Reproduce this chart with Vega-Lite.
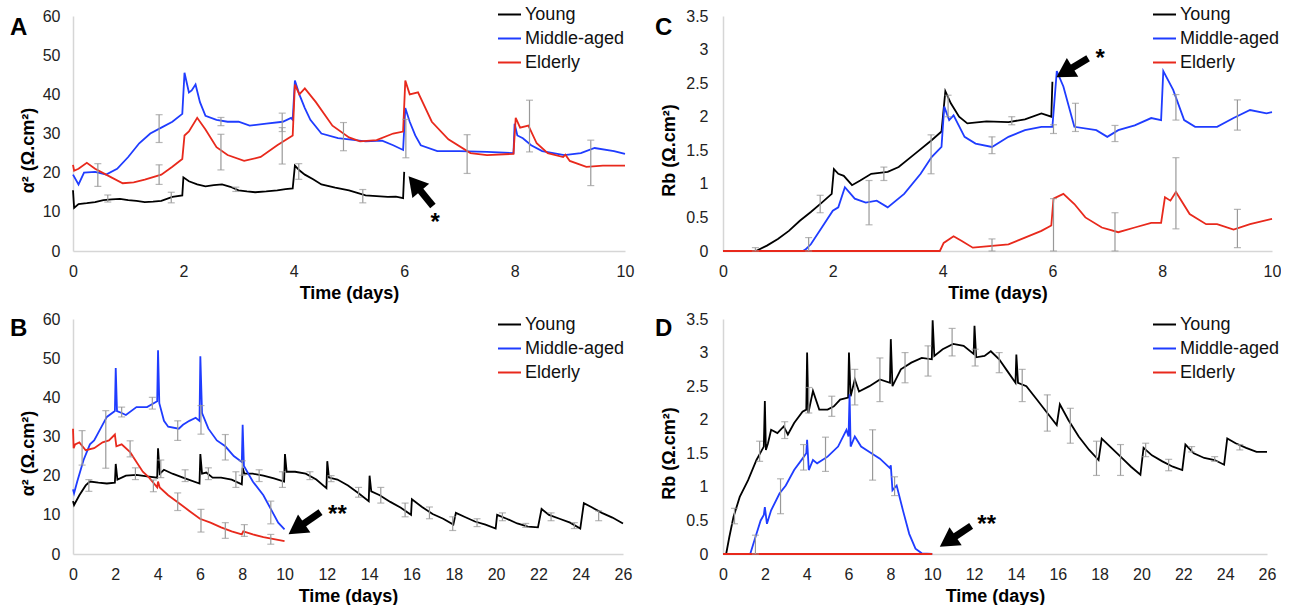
{
  "$schema": "https://vega.github.io/schema/vega-lite/v6.json",
  "background": "white",
  "padding": {"left": 10, "top": 2, "right": 0, "bottom": 0},
  "config": {
    "view": {"stroke": null},
    "font": "Liberation Sans",
    "axis": {"domainColor": "#d6d6d6", "domainWidth": 1.5, "ticks": false, "grid": false, "labelFont": "Liberation Sans", "labelFontSize": 16, "labelColor": "#222222", "labelFlush": false, "labelOverlap": false, "titleFont": "Liberation Sans", "titleFontSize": 18, "titleFontWeight": "bold", "titleColor": "#000000"},
    "axisX": {"labelPadding": 12, "titlePadding": 5},
    "axisY": {"labelPadding": 13, "titlePadding": 5},
    "legend": {"orient": "none", "direction": "vertical", "title": null, "symbolType": "stroke", "symbolSize": 529, "symbolStrokeWidth": 2, "labelFont": "Liberation Sans", "labelFontSize": 18, "labelColor": "#111111", "labelOffset": 3, "rowPadding": 2, "padding": 0},
    "title": {"anchor": "start", "frame": "group", "offset": 0, "baseline": "alphabetic", "font": "Liberation Sans", "fontSize": 24, "fontWeight": "bold", "color": "#000000"}
  },
  "datasets": {
    "A": [
      {"s":"Young","t":0,"v":15.5},{"s":"Young","t":0.02,"v":11.0},{"s":"Young","t":0.1,"v":12.0},{"s":"Young","t":0.25,"v":12.2},{"s":"Young","t":0.4,"v":12.5},{"s":"Young","t":0.55,"v":13.0},{"s":"Young","t":0.7,"v":13.2},{"s":"Young","t":0.85,"v":13.3},{"s":"Young","t":1.0,"v":13.0},{"s":"Young","t":1.15,"v":12.8},{"s":"Young","t":1.3,"v":12.5},{"s":"Young","t":1.45,"v":12.6},{"s":"Young","t":1.6,"v":12.8},{"s":"Young","t":1.8,"v":13.8},{"s":"Young","t":1.98,"v":14.2},{"s":"Young","t":2.0,"v":18.8},{"s":"Young","t":2.1,"v":17.8},{"s":"Young","t":2.25,"v":17.0},{"s":"Young","t":2.4,"v":16.5},{"s":"Young","t":2.55,"v":16.8},{"s":"Young","t":2.7,"v":17.0},{"s":"Young","t":2.85,"v":16.4},{"s":"Young","t":3.0,"v":15.5},{"s":"Young","t":3.15,"v":15.2},{"s":"Young","t":3.3,"v":15.0},{"s":"Young","t":3.5,"v":15.2},{"s":"Young","t":3.7,"v":15.5},{"s":"Young","t":3.85,"v":15.8},{"s":"Young","t":3.98,"v":16.0},{"s":"Young","t":4.02,"v":21.8},{"s":"Young","t":4.1,"v":20.6},{"s":"Young","t":4.2,"v":19.5},{"s":"Young","t":4.35,"v":18.3},{"s":"Young","t":4.5,"v":17.0},{"s":"Young","t":4.75,"v":16.2},{"s":"Young","t":5.0,"v":15.5},{"s":"Young","t":5.3,"v":14.2},{"s":"Young","t":5.5,"v":14.0},{"s":"Young","t":5.7,"v":13.8},{"s":"Young","t":5.85,"v":13.9},{"s":"Young","t":5.98,"v":13.5},{"s":"Young","t":6.0,"v":20.2},
      {"s":"Middle-aged","t":0,"v":19.5},{"s":"Middle-aged","t":0.1,"v":17.0},{"s":"Middle-aged","t":0.2,"v":20.0},{"s":"Middle-aged","t":0.4,"v":20.2},{"s":"Middle-aged","t":0.6,"v":19.5},{"s":"Middle-aged","t":0.8,"v":21.0},{"s":"Middle-aged","t":1.0,"v":24.0},{"s":"Middle-aged","t":1.2,"v":27.5},{"s":"Middle-aged","t":1.4,"v":30.0},{"s":"Middle-aged","t":1.6,"v":31.5},{"s":"Middle-aged","t":1.8,"v":33.0},{"s":"Middle-aged","t":1.98,"v":35.0},{"s":"Middle-aged","t":2.02,"v":45.5},{"s":"Middle-aged","t":2.1,"v":40.5},{"s":"Middle-aged","t":2.15,"v":41.0},{"s":"Middle-aged","t":2.22,"v":42.5},{"s":"Middle-aged","t":2.3,"v":38.0},{"s":"Middle-aged","t":2.4,"v":34.5},{"s":"Middle-aged","t":2.6,"v":33.5},{"s":"Middle-aged","t":2.8,"v":33.0},{"s":"Middle-aged","t":3.0,"v":33.0},{"s":"Middle-aged","t":3.2,"v":32.0},{"s":"Middle-aged","t":3.5,"v":32.5},{"s":"Middle-aged","t":3.8,"v":33.0},{"s":"Middle-aged","t":3.95,"v":34.0},{"s":"Middle-aged","t":3.98,"v":33.5},{"s":"Middle-aged","t":4.02,"v":43.5},{"s":"Middle-aged","t":4.1,"v":40.0},{"s":"Middle-aged","t":4.2,"v":36.5},{"s":"Middle-aged","t":4.3,"v":33.5},{"s":"Middle-aged","t":4.5,"v":30.0},{"s":"Middle-aged","t":4.8,"v":28.8},{"s":"Middle-aged","t":5.0,"v":28.5},{"s":"Middle-aged","t":5.3,"v":28.0},{"s":"Middle-aged","t":5.6,"v":28.2},{"s":"Middle-aged","t":5.8,"v":27.0},{"s":"Middle-aged","t":5.98,"v":25.8},{"s":"Middle-aged","t":6.02,"v":36.5},{"s":"Middle-aged","t":6.1,"v":33.0},{"s":"Middle-aged","t":6.2,"v":29.5},{"s":"Middle-aged","t":6.3,"v":27.0},{"s":"Middle-aged","t":6.6,"v":25.5},{"s":"Middle-aged","t":7.0,"v":25.5},{"s":"Middle-aged","t":7.5,"v":25.3},{"s":"Middle-aged","t":7.98,"v":25.0},{"s":"Middle-aged","t":8.0,"v":32.5},{"s":"Middle-aged","t":8.05,"v":29.5},{"s":"Middle-aged","t":8.15,"v":28.8},{"s":"Middle-aged","t":8.3,"v":27.0},{"s":"Middle-aged","t":8.5,"v":25.5},{"s":"Middle-aged","t":8.9,"v":24.5},{"s":"Middle-aged","t":9.2,"v":25.0},{"s":"Middle-aged","t":9.45,"v":26.3},{"s":"Middle-aged","t":9.8,"v":25.5},{"s":"Middle-aged","t":10.0,"v":24.8},
      {"s":"Elderly","t":0,"v":22.0},{"s":"Elderly","t":0.02,"v":20.5},{"s":"Elderly","t":0.1,"v":21.0},{"s":"Elderly","t":0.25,"v":22.5},{"s":"Elderly","t":0.4,"v":21.0},{"s":"Elderly","t":0.6,"v":19.5},{"s":"Elderly","t":0.9,"v":17.3},{"s":"Elderly","t":1.1,"v":17.5},{"s":"Elderly","t":1.3,"v":18.2},{"s":"Elderly","t":1.6,"v":19.5},{"s":"Elderly","t":1.8,"v":21.5},{"s":"Elderly","t":1.98,"v":23.5},{"s":"Elderly","t":2.02,"v":29.5},{"s":"Elderly","t":2.1,"v":30.5},{"s":"Elderly","t":2.25,"v":34.0},{"s":"Elderly","t":2.4,"v":31.0},{"s":"Elderly","t":2.6,"v":26.5},{"s":"Elderly","t":2.8,"v":24.5},{"s":"Elderly","t":3.1,"v":23.0},{"s":"Elderly","t":3.4,"v":24.0},{"s":"Elderly","t":3.7,"v":27.0},{"s":"Elderly","t":3.98,"v":29.5},{"s":"Elderly","t":4.02,"v":42.5},{"s":"Elderly","t":4.1,"v":40.0},{"s":"Elderly","t":4.2,"v":41.5},{"s":"Elderly","t":4.4,"v":38.0},{"s":"Elderly","t":4.7,"v":32.0},{"s":"Elderly","t":5.0,"v":29.0},{"s":"Elderly","t":5.2,"v":28.0},{"s":"Elderly","t":5.5,"v":28.3},{"s":"Elderly","t":5.8,"v":30.0},{"s":"Elderly","t":5.98,"v":30.5},{"s":"Elderly","t":6.02,"v":43.5},{"s":"Elderly","t":6.1,"v":40.0},{"s":"Elderly","t":6.25,"v":40.5},{"s":"Elderly","t":6.5,"v":33.0},{"s":"Elderly","t":6.8,"v":28.5},{"s":"Elderly","t":7.2,"v":25.0},{"s":"Elderly","t":7.5,"v":24.5},{"s":"Elderly","t":7.98,"v":24.8},{"s":"Elderly","t":8.02,"v":34.0},{"s":"Elderly","t":8.1,"v":31.5},{"s":"Elderly","t":8.25,"v":32.0},{"s":"Elderly","t":8.4,"v":27.5},{"s":"Elderly","t":8.6,"v":25.0},{"s":"Elderly","t":8.88,"v":24.0},{"s":"Elderly","t":8.92,"v":24.6},{"s":"Elderly","t":9.0,"v":23.0},{"s":"Elderly","t":9.3,"v":21.5},{"s":"Elderly","t":9.6,"v":21.8},{"s":"Elderly","t":10.0,"v":21.8}
    ],
    "errA": [
      {"t":0.45,"v":16.5,"v2":22.3},{"t":0.63,"v":12.5,"v2":14.3},{"t":1.56,"v":27.7,"v2":34.8},{"t":1.56,"v":17.0,"v2":22.0},{"t":1.78,"v":12.3,"v2":15.0},{"t":2.68,"v":32.0,"v2":34.1},{"t":2.68,"v":20.7,"v2":29.8},{"t":2.95,"v":15.2,"v2":16.3},{"t":3.79,"v":30.5,"v2":35.2},{"t":3.79,"v":22.2,"v2":31.5},{"t":4.09,"v":18.3,"v2":22.3},{"t":4.9,"v":25.6,"v2":32.8},{"t":5.25,"v":12.3,"v2":15.7},{"t":6.03,"v":23.8,"v2":33.6},{"t":7.14,"v":19.8,"v2":29.7},{"t":8.27,"v":25.3,"v2":38.5},{"t":9.38,"v":16.7,"v2":28.3}
    ],
    "arrA": [{"t":6.52,"v":11.5,"t2":6.19,"v2":17.2}],
    "headA": [{"t":6.19,"v":17.2}],
    "starA": [{"t":6.56,"v":8.6,"label":"*"}],
    "C": [
      {"s":"Young","t":0,"v":0},{"s":"Young","t":0.6,"v":0},{"s":"Young","t":0.8,"v":0.08},{"s":"Young","t":1.0,"v":0.18},{"s":"Young","t":1.2,"v":0.3},{"s":"Young","t":1.4,"v":0.45},{"s":"Young","t":1.6,"v":0.58},{"s":"Young","t":1.8,"v":0.72},{"s":"Young","t":1.98,"v":0.85},{"s":"Young","t":2.02,"v":1.22},{"s":"Young","t":2.1,"v":1.15},{"s":"Young","t":2.2,"v":1.12},{"s":"Young","t":2.35,"v":0.98},{"s":"Young","t":2.5,"v":1.05},{"s":"Young","t":2.7,"v":1.15},{"s":"Young","t":3.0,"v":1.18},{"s":"Young","t":3.2,"v":1.25},{"s":"Young","t":3.5,"v":1.45},{"s":"Young","t":3.8,"v":1.65},{"s":"Young","t":3.98,"v":1.78},{"s":"Young","t":4.05,"v":2.38},{"s":"Young","t":4.15,"v":2.2},{"s":"Young","t":4.3,"v":2.0},{"s":"Young","t":4.45,"v":1.9},{"s":"Young","t":4.8,"v":1.93},{"s":"Young","t":5.2,"v":1.92},{"s":"Young","t":5.5,"v":1.96},{"s":"Young","t":5.8,"v":2.05},{"s":"Young","t":5.98,"v":2.0},{"s":"Young","t":6.0,"v":2.52},
      {"s":"Middle-aged","t":0,"v":0},{"s":"Middle-aged","t":1.45,"v":0},{"s":"Middle-aged","t":1.5,"v":0.02},{"s":"Middle-aged","t":1.6,"v":0.1},{"s":"Middle-aged","t":1.8,"v":0.35},{"s":"Middle-aged","t":2.0,"v":0.6},{"s":"Middle-aged","t":2.1,"v":0.65},{"s":"Middle-aged","t":2.22,"v":0.95},{"s":"Middle-aged","t":2.4,"v":0.78},{"s":"Middle-aged","t":2.6,"v":0.72},{"s":"Middle-aged","t":2.8,"v":0.75},{"s":"Middle-aged","t":3.0,"v":0.65},{"s":"Middle-aged","t":3.3,"v":0.85},{"s":"Middle-aged","t":3.6,"v":1.15},{"s":"Middle-aged","t":3.8,"v":1.4},{"s":"Middle-aged","t":3.98,"v":1.55},{"s":"Middle-aged","t":4.03,"v":2.15},{"s":"Middle-aged","t":4.12,"v":1.95},{"s":"Middle-aged","t":4.2,"v":2.02},{"s":"Middle-aged","t":4.4,"v":1.7},{"s":"Middle-aged","t":4.6,"v":1.6},{"s":"Middle-aged","t":4.9,"v":1.55},{"s":"Middle-aged","t":5.2,"v":1.7},{"s":"Middle-aged","t":5.5,"v":1.8},{"s":"Middle-aged","t":5.8,"v":1.85},{"s":"Middle-aged","t":6.0,"v":1.85},{"s":"Middle-aged","t":6.08,"v":2.68},{"s":"Middle-aged","t":6.2,"v":2.45},{"s":"Middle-aged","t":6.4,"v":1.85},{"s":"Middle-aged","t":6.8,"v":1.8},{"s":"Middle-aged","t":7.0,"v":1.7},{"s":"Middle-aged","t":7.2,"v":1.8},{"s":"Middle-aged","t":7.5,"v":1.87},{"s":"Middle-aged","t":7.8,"v":1.98},{"s":"Middle-aged","t":7.98,"v":1.95},{"s":"Middle-aged","t":8.02,"v":2.68},{"s":"Middle-aged","t":8.2,"v":2.4},{"s":"Middle-aged","t":8.4,"v":1.95},{"s":"Middle-aged","t":8.6,"v":1.85},{"s":"Middle-aged","t":9.0,"v":1.85},{"s":"Middle-aged","t":9.3,"v":1.98},{"s":"Middle-aged","t":9.6,"v":2.1},{"s":"Middle-aged","t":9.9,"v":2.05},{"s":"Middle-aged","t":10.0,"v":2.07},
      {"s":"Elderly","t":0,"v":0},{"s":"Elderly","t":3.95,"v":0},{"s":"Elderly","t":4.02,"v":0.12},{"s":"Elderly","t":4.2,"v":0.22},{"s":"Elderly","t":4.35,"v":0.15},{"s":"Elderly","t":4.55,"v":0.05},{"s":"Elderly","t":4.8,"v":0.07},{"s":"Elderly","t":5.2,"v":0.1},{"s":"Elderly","t":5.5,"v":0.2},{"s":"Elderly","t":5.8,"v":0.3},{"s":"Elderly","t":5.98,"v":0.38},{"s":"Elderly","t":6.02,"v":0.78},{"s":"Elderly","t":6.2,"v":0.85},{"s":"Elderly","t":6.4,"v":0.7},{"s":"Elderly","t":6.6,"v":0.5},{"s":"Elderly","t":6.9,"v":0.35},{"s":"Elderly","t":7.2,"v":0.28},{"s":"Elderly","t":7.5,"v":0.35},{"s":"Elderly","t":7.8,"v":0.42},{"s":"Elderly","t":7.98,"v":0.42},{"s":"Elderly","t":8.05,"v":0.8},{"s":"Elderly","t":8.15,"v":0.75},{"s":"Elderly","t":8.25,"v":0.88},{"s":"Elderly","t":8.5,"v":0.55},{"s":"Elderly","t":8.8,"v":0.4},{"s":"Elderly","t":9.0,"v":0.4},{"s":"Elderly","t":9.3,"v":0.32},{"s":"Elderly","t":9.6,"v":0.4},{"s":"Elderly","t":10.0,"v":0.48}
    ],
    "errC": [
      {"t":0.59,"v":0,"v2":0.05},{"t":1.56,"v":0,"v2":0.2},{"t":1.77,"v":0.57,"v2":0.83},{"t":2.66,"v":0.39,"v2":1.05},{"t":2.93,"v":1.05,"v2":1.25},{"t":3.79,"v":1.15,"v2":1.73},{"t":4.1,"v":2.0,"v2":2.32},{"t":4.9,"v":1.45,"v2":1.7},{"t":4.9,"v":0,"v2":0.18},{"t":5.26,"v":1.88,"v2":2.0},{"t":6.02,"v":0,"v2":0.78},{"t":6.02,"v":1.75,"v2":1.88},{"t":6.42,"v":1.78,"v2":2.2},{"t":7.14,"v":0,"v2":0.57},{"t":7.14,"v":1.63,"v2":1.87},{"t":8.25,"v":0.33,"v2":1.39},{"t":8.25,"v":1.95,"v2":2.33},{"t":9.37,"v":0.05,"v2":0.62},{"t":9.37,"v":1.8,"v2":2.25}
    ],
    "arrC": [{"t":6.65,"v":2.87,"t2":6.22,"v2":2.66}],
    "headC": [{"t":6.22,"v":2.66}],
    "starC": [{"t":6.87,"v":2.95,"label":"*"}],
    "B": [
      {"s":"Young","t":0,"v":13.5},{"s":"Young","t":0.05,"v":12.5},{"s":"Young","t":0.3,"v":15.0},{"s":"Young","t":0.6,"v":17.5},{"s":"Young","t":0.8,"v":18.5},{"s":"Young","t":1.2,"v":18.2},{"s":"Young","t":1.6,"v":18.0},{"s":"Young","t":1.98,"v":18.2},{"s":"Young","t":2.02,"v":23.0},{"s":"Young","t":2.1,"v":19.0},{"s":"Young","t":2.5,"v":20.0},{"s":"Young","t":3.0,"v":20.2},{"s":"Young","t":3.5,"v":19.8},{"s":"Young","t":3.98,"v":19.5},{"s":"Young","t":4.02,"v":27.0},{"s":"Young","t":4.1,"v":20.5},{"s":"Young","t":4.3,"v":21.5},{"s":"Young","t":4.7,"v":20.5},{"s":"Young","t":5.2,"v":19.5},{"s":"Young","t":5.98,"v":18.0},{"s":"Young","t":6.02,"v":25.5},{"s":"Young","t":6.1,"v":20.5},{"s":"Young","t":6.3,"v":20.8},{"s":"Young","t":6.6,"v":19.5},{"s":"Young","t":7.0,"v":19.5},{"s":"Young","t":7.5,"v":19.0},{"s":"Young","t":7.98,"v":17.8},{"s":"Young","t":8.02,"v":22.0},{"s":"Young","t":8.1,"v":20.5},{"s":"Young","t":8.5,"v":20.5},{"s":"Young","t":9.0,"v":20.0},{"s":"Young","t":9.5,"v":19.3},{"s":"Young","t":9.98,"v":18.5},{"s":"Young","t":10.02,"v":25.5},{"s":"Young","t":10.1,"v":21.0},{"s":"Young","t":10.5,"v":21.0},{"s":"Young","t":11.0,"v":20.5},{"s":"Young","t":11.5,"v":19.0},{"s":"Young","t":11.98,"v":16.8},{"s":"Young","t":12.02,"v":23.7},{"s":"Young","t":12.1,"v":19.5},{"s":"Young","t":12.5,"v":19.0},{"s":"Young","t":13.0,"v":17.5},{"s":"Young","t":13.5,"v":15.5},{"s":"Young","t":13.98,"v":13.5},{"s":"Young","t":14.02,"v":20.0},{"s":"Young","t":14.1,"v":16.0},{"s":"Young","t":14.5,"v":15.0},{"s":"Young","t":15.0,"v":13.3},{"s":"Young","t":15.5,"v":11.8},{"s":"Young","t":15.98,"v":10.0},{"s":"Young","t":16.02,"v":14.0},{"s":"Young","t":16.5,"v":12.0},{"s":"Young","t":17.0,"v":10.2},{"s":"Young","t":17.5,"v":9.0},{"s":"Young","t":17.98,"v":7.5},{"s":"Young","t":18.1,"v":10.5},{"s":"Young","t":18.5,"v":9.5},{"s":"Young","t":19.0,"v":8.3},{"s":"Young","t":19.5,"v":7.5},{"s":"Young","t":19.98,"v":6.5},{"s":"Young","t":20.05,"v":10.0},{"s":"Young","t":20.5,"v":9.0},{"s":"Young","t":21.0,"v":7.8},{"s":"Young","t":21.5,"v":7.0},{"s":"Young","t":21.98,"v":6.8},{"s":"Young","t":22.15,"v":11.5},{"s":"Young","t":22.5,"v":10.0},{"s":"Young","t":23.0,"v":9.0},{"s":"Young","t":23.5,"v":8.0},{"s":"Young","t":23.98,"v":6.5},{"s":"Young","t":24.15,"v":13.0},{"s":"Young","t":24.5,"v":12.0},{"s":"Young","t":25.0,"v":10.5},{"s":"Young","t":25.5,"v":9.3},{"s":"Young","t":26.0,"v":7.8},
      {"s":"Middle-aged","t":0,"v":16.5},{"s":"Middle-aged","t":0.05,"v":15.5},{"s":"Middle-aged","t":0.2,"v":18.5},{"s":"Middle-aged","t":0.5,"v":24.0},{"s":"Middle-aged","t":0.8,"v":28.0},{"s":"Middle-aged","t":1.0,"v":29.0},{"s":"Middle-aged","t":1.3,"v":32.0},{"s":"Middle-aged","t":1.6,"v":35.0},{"s":"Middle-aged","t":1.98,"v":36.5},{"s":"Middle-aged","t":2.02,"v":47.5},{"s":"Middle-aged","t":2.08,"v":36.5},{"s":"Middle-aged","t":2.3,"v":36.0},{"s":"Middle-aged","t":2.5,"v":35.5},{"s":"Middle-aged","t":3.0,"v":37.5},{"s":"Middle-aged","t":3.5,"v":37.5},{"s":"Middle-aged","t":3.98,"v":39.0},{"s":"Middle-aged","t":4.02,"v":52.0},{"s":"Middle-aged","t":4.08,"v":38.5},{"s":"Middle-aged","t":4.3,"v":34.0},{"s":"Middle-aged","t":4.5,"v":32.5},{"s":"Middle-aged","t":5.0,"v":32.0},{"s":"Middle-aged","t":5.2,"v":33.0},{"s":"Middle-aged","t":5.5,"v":34.0},{"s":"Middle-aged","t":5.8,"v":34.8},{"s":"Middle-aged","t":5.98,"v":34.0},{"s":"Middle-aged","t":6.02,"v":50.5},{"s":"Middle-aged","t":6.1,"v":36.0},{"s":"Middle-aged","t":6.4,"v":32.0},{"s":"Middle-aged","t":6.8,"v":29.0},{"s":"Middle-aged","t":7.2,"v":27.5},{"s":"Middle-aged","t":7.6,"v":25.0},{"s":"Middle-aged","t":7.98,"v":23.5},{"s":"Middle-aged","t":8.02,"v":33.0},{"s":"Middle-aged","t":8.08,"v":22.5},{"s":"Middle-aged","t":8.5,"v":18.5},{"s":"Middle-aged","t":9.0,"v":15.0},{"s":"Middle-aged","t":9.4,"v":11.0},{"s":"Middle-aged","t":9.7,"v":8.0},{"s":"Middle-aged","t":10.0,"v":6.3},
      {"s":"Elderly","t":0,"v":32.0},{"s":"Elderly","t":0.03,"v":27.0},{"s":"Elderly","t":0.1,"v":28.0},{"s":"Elderly","t":0.3,"v":28.5},{"s":"Elderly","t":0.6,"v":26.5},{"s":"Elderly","t":1.0,"v":27.0},{"s":"Elderly","t":1.4,"v":28.5},{"s":"Elderly","t":1.7,"v":29.0},{"s":"Elderly","t":1.98,"v":30.5},{"s":"Elderly","t":2.05,"v":27.5},{"s":"Elderly","t":2.3,"v":28.0},{"s":"Elderly","t":2.7,"v":26.0},{"s":"Elderly","t":3.0,"v":23.5},{"s":"Elderly","t":3.3,"v":21.0},{"s":"Elderly","t":3.6,"v":19.5},{"s":"Elderly","t":3.98,"v":17.0},{"s":"Elderly","t":4.02,"v":18.5},{"s":"Elderly","t":4.1,"v":17.0},{"s":"Elderly","t":4.5,"v":15.0},{"s":"Elderly","t":5.0,"v":13.0},{"s":"Elderly","t":5.5,"v":11.0},{"s":"Elderly","t":6.0,"v":9.0},{"s":"Elderly","t":6.5,"v":8.0},{"s":"Elderly","t":7.0,"v":6.8},{"s":"Elderly","t":7.5,"v":5.8},{"s":"Elderly","t":7.98,"v":5.0},{"s":"Elderly","t":8.05,"v":5.8},{"s":"Elderly","t":8.5,"v":5.0},{"s":"Elderly","t":9.0,"v":4.3},{"s":"Elderly","t":9.5,"v":3.8},{"s":"Elderly","t":10.0,"v":3.3}
    ],
    "errB": [
      {"t":0.43,"v":22.7,"v2":31.5},{"t":0.75,"v":16,"v2":19},{"t":1.55,"v":21.9,"v2":36.6},{"t":2.3,"v":35,"v2":37.5},{"t":2.7,"v":24.8,"v2":28.9},{"t":2.95,"v":19,"v2":22},{"t":3.75,"v":37,"v2":40},{"t":3.8,"v":15.9,"v2":18.9},{"t":4.15,"v":19.5,"v2":24},{"t":4.95,"v":29,"v2":34},{"t":4.95,"v":11.1,"v2":15.6},{"t":5.3,"v":18.5,"v2":21.5},{"t":6.05,"v":30.6,"v2":37.9},{"t":6.05,"v":5.6,"v2":11.4},{"t":6.4,"v":19,"v2":22},{"t":7.2,"v":24,"v2":30.5},{"t":7.2,"v":4,"v2":8},{"t":7.7,"v":17,"v2":21},{"t":8.0,"v":20.1,"v2":23.8},{"t":8.1,"v":4.5,"v2":7.5},{"t":8.8,"v":18.5,"v2":21.5},{"t":9.35,"v":7.7,"v2":13.5},{"t":9.35,"v":2.5,"v2":5},{"t":9.9,"v":17,"v2":21},{"t":11.2,"v":19,"v2":21},{"t":12.2,"v":18.5,"v2":20},{"t":13.5,"v":14.5,"v2":17},{"t":14.55,"v":13,"v2":17},{"t":15.7,"v":9.5,"v2":13},{"t":16.85,"v":9,"v2":12},{"t":17.95,"v":6,"v2":9.5},{"t":19.1,"v":7,"v2":9},{"t":20.3,"v":8.5,"v2":10.5},{"t":21.4,"v":6.8,"v2":7.8},{"t":22.6,"v":8.5,"v2":10.5},{"t":23.7,"v":6.5,"v2":8},{"t":24.85,"v":8.5,"v2":11}
    ],
    "arrB": [{"t":11.7,"v":10.7,"t2":10.56,"v2":6.44}],
    "headB": [{"t":10.56,"v":6.44}],
    "starB": [{"t":12.5,"v":11.6,"label":"**"}],
    "D": [
      {"s":"Young","t":0,"v":0},{"s":"Young","t":0.15,"v":0},{"s":"Young","t":0.3,"v":0.25},{"s":"Young","t":0.5,"v":0.55},{"s":"Young","t":0.8,"v":0.85},{"s":"Young","t":1.2,"v":1.1},{"s":"Young","t":1.6,"v":1.4},{"s":"Young","t":1.95,"v":1.6},{"s":"Young","t":2.0,"v":2.28},{"s":"Young","t":2.05,"v":1.55},{"s":"Young","t":2.15,"v":1.65},{"s":"Young","t":2.3,"v":1.85},{"s":"Young","t":2.6,"v":1.8},{"s":"Young","t":2.9,"v":1.9},{"s":"Young","t":3.1,"v":1.78},{"s":"Young","t":3.4,"v":1.95},{"s":"Young","t":3.8,"v":2.12},{"s":"Young","t":3.98,"v":2.15},{"s":"Young","t":4.02,"v":3.0},{"s":"Young","t":4.08,"v":2.1},{"s":"Young","t":4.3,"v":2.43},{"s":"Young","t":4.6,"v":2.15},{"s":"Young","t":5.0,"v":2.15},{"s":"Young","t":5.3,"v":2.2},{"s":"Young","t":5.6,"v":2.3},{"s":"Young","t":5.98,"v":2.33},{"s":"Young","t":6.02,"v":3.0},{"s":"Young","t":6.1,"v":2.35},{"s":"Young","t":6.3,"v":2.6},{"s":"Young","t":6.5,"v":2.42},{"s":"Young","t":7.0,"v":2.5},{"s":"Young","t":7.5,"v":2.6},{"s":"Young","t":7.98,"v":2.55},{"s":"Young","t":8.02,"v":3.2},{"s":"Young","t":8.1,"v":2.5},{"s":"Young","t":8.5,"v":2.75},{"s":"Young","t":9.0,"v":2.85},{"s":"Young","t":9.5,"v":2.92},{"s":"Young","t":9.98,"v":2.9},{"s":"Young","t":10.02,"v":3.48},{"s":"Young","t":10.1,"v":2.95},{"s":"Young","t":10.5,"v":3.05},{"s":"Young","t":11.0,"v":3.13},{"s":"Young","t":11.5,"v":3.1},{"s":"Young","t":11.98,"v":2.98},{"s":"Young","t":12.02,"v":3.4},{"s":"Young","t":12.1,"v":2.93},{"s":"Young","t":12.5,"v":2.95},{"s":"Young","t":12.8,"v":3.02},{"s":"Young","t":13.2,"v":2.9},{"s":"Young","t":13.6,"v":2.72},{"s":"Young","t":13.98,"v":2.55},{"s":"Young","t":14.02,"v":2.97},{"s":"Young","t":14.1,"v":2.55},{"s":"Young","t":14.5,"v":2.5},{"s":"Young","t":15.0,"v":2.3},{"s":"Young","t":15.5,"v":2.1},{"s":"Young","t":15.95,"v":1.92},{"s":"Young","t":16.1,"v":2.23},{"s":"Young","t":16.5,"v":2.0},{"s":"Young","t":17.0,"v":1.75},{"s":"Young","t":17.5,"v":1.55},{"s":"Young","t":17.95,"v":1.4},{"s":"Young","t":18.1,"v":1.72},{"s":"Young","t":18.5,"v":1.6},{"s":"Young","t":19.0,"v":1.45},{"s":"Young","t":19.5,"v":1.3},{"s":"Young","t":19.95,"v":1.18},{"s":"Young","t":20.1,"v":1.58},{"s":"Young","t":20.5,"v":1.47},{"s":"Young","t":21.0,"v":1.38},{"s":"Young","t":21.5,"v":1.3},{"s":"Young","t":21.95,"v":1.25},{"s":"Young","t":22.1,"v":1.63},{"s":"Young","t":22.5,"v":1.5},{"s":"Young","t":23.0,"v":1.43},{"s":"Young","t":23.5,"v":1.4},{"s":"Young","t":23.95,"v":1.33},{"s":"Young","t":24.1,"v":1.72},{"s":"Young","t":24.5,"v":1.65},{"s":"Young","t":25.0,"v":1.58},{"s":"Young","t":25.5,"v":1.52},{"s":"Young","t":26.0,"v":1.52},
      {"s":"Middle-aged","t":0,"v":0},{"s":"Middle-aged","t":1.3,"v":0},{"s":"Middle-aged","t":1.5,"v":0.2},{"s":"Middle-aged","t":1.8,"v":0.5},{"s":"Middle-aged","t":1.95,"v":0.58},{"s":"Middle-aged","t":2.0,"v":0.7},{"s":"Middle-aged","t":2.1,"v":0.45},{"s":"Middle-aged","t":2.3,"v":0.65},{"s":"Middle-aged","t":2.7,"v":0.9},{"s":"Middle-aged","t":3.0,"v":1.02},{"s":"Middle-aged","t":3.4,"v":1.25},{"s":"Middle-aged","t":3.8,"v":1.42},{"s":"Middle-aged","t":3.98,"v":1.5},{"s":"Middle-aged","t":4.02,"v":1.7},{"s":"Middle-aged","t":4.1,"v":1.25},{"s":"Middle-aged","t":4.3,"v":1.4},{"s":"Middle-aged","t":4.5,"v":1.35},{"s":"Middle-aged","t":5.0,"v":1.45},{"s":"Middle-aged","t":5.5,"v":1.6},{"s":"Middle-aged","t":5.9,"v":1.85},{"s":"Middle-aged","t":6.0,"v":1.75},{"s":"Middle-aged","t":6.05,"v":2.38},{"s":"Middle-aged","t":6.1,"v":1.6},{"s":"Middle-aged","t":6.3,"v":1.75},{"s":"Middle-aged","t":6.6,"v":1.6},{"s":"Middle-aged","t":7.0,"v":1.52},{"s":"Middle-aged","t":7.5,"v":1.42},{"s":"Middle-aged","t":7.98,"v":1.28},{"s":"Middle-aged","t":8.02,"v":1.32},{"s":"Middle-aged","t":8.1,"v":0.95},{"s":"Middle-aged","t":8.3,"v":1.02},{"s":"Middle-aged","t":8.6,"v":0.65},{"s":"Middle-aged","t":8.9,"v":0.3},{"s":"Middle-aged","t":9.2,"v":0.08},{"s":"Middle-aged","t":9.5,"v":0.01},{"s":"Middle-aged","t":10.0,"v":0},
      {"s":"Elderly","t":0,"v":0},{"s":"Elderly","t":10.0,"v":0}
    ],
    "errD": [
      {"t":0.55,"v":0.45,"v2":0.68},{"t":1.55,"v":0,"v2":0.28},{"t":1.75,"v":1.38,"v2":1.68},{"t":2.75,"v":0.6,"v2":1.12},{"t":2.95,"v":1.72,"v2":1.97},{"t":3.85,"v":1.25,"v2":1.63},{"t":4.1,"v":2.1,"v2":2.48},{"t":4.9,"v":1.23,"v2":1.74},{"t":5.2,"v":2.05,"v2":2.35},{"t":6.3,"v":2.22,"v2":2.75},{"t":7.15,"v":1.1,"v2":1.85},{"t":7.5,"v":2.27,"v2":2.92},{"t":8.2,"v":0.87,"v2":1.15},{"t":8.7,"v":2.55,"v2":3.0},{"t":9.8,"v":2.65,"v2":3.1},{"t":10.95,"v":2.95,"v2":3.36},{"t":12.05,"v":2.8,"v2":3.05},{"t":13.2,"v":2.7,"v2":3.0},{"t":14.3,"v":2.27,"v2":2.75},{"t":15.5,"v":1.83,"v2":2.37},{"t":16.6,"v":1.65,"v2":2.17},{"t":17.85,"v":1.17,"v2":1.68},{"t":19.0,"v":1.17,"v2":1.63},{"t":20.2,"v":1.45,"v2":1.65},{"t":21.3,"v":1.24,"v2":1.41},{"t":22.4,"v":1.52,"v2":1.6},{"t":23.5,"v":1.38,"v2":1.45},{"t":24.7,"v":1.55,"v2":1.63}
    ],
    "arrD": [{"t":11.86,"v":0.42,"t2":10.74,"v2":0.186}],
    "headD": [{"t":10.74,"v":0.186}],
    "starD": [{"t":12.6,"v":0.52,"label":"**"}]
  },
  "resolve": {"scale": {"color": "independent"}, "legend": {"color": "independent"}},
  "bounds": "flush",
  "columns": 2,
  "spacing": {"row": 68, "column": 98},
  "concat": [
    {
      "width": 552, "height": 235,
      "title": {"text": "A", "dx": -63, "dy": 42},
      "encoding": {
        "x": {"field": "t", "type": "quantitative", "scale": {"domain": [0, 10], "nice": false}, "axis": {"values": [0,2,4,6,8,10], "labelOverlap": false, "labelFontSize": 16, "titleFontSize": 18, "title": "Time (days)"}},
        "y": {"field": "v", "type": "quantitative", "scale": {"domain": [0, 60], "nice": false}, "axis": {"values": [0,10,20,30,40,50,60], "labelOverlap": false, "labelFontSize": 16, "titleFontSize": 18, "titleFontWeight": "bold", "titleY": 134, "title": "α² (Ω.cm²)"}}
      },
      "layer": [
        {"data": {"name": "A"}, "mark": {"type": "line", "strokeWidth": 1.8},
         "encoding": {"color": {"field": "s", "type": "nominal", "scale": {"domain": ["Young","Middle-aged","Elderly"], "range": ["#000000","#1f3cff","#e8291c"]}, "legend": {"legendX": 424, "legendY": -14}}}},
        {"data": {"name": "errA"}, "mark": {"type": "rule", "color": "#999999", "strokeWidth": 1.2}, "encoding": {"y2": {"field": "v2"}}},
        {"data": {"name": "errA"}, "transform": [{"fold": ["v", "v2"], "as": ["k", "v"]}], "mark": {"type": "tick", "orient": "horizontal", "color": "#999999", "size": 7, "thickness": 1.2}},
        {"data": {"name": "arrA"}, "mark": {"type": "rule", "color": "#000000", "strokeWidth": 7}, "encoding": {"x2": {"field": "t2"}, "y2": {"field": "v2"}}},
        {"data": {"name": "headA"}, "mark": {"type": "point", "shape": "triangle-up", "filled": true, "color": "#000000", "opacity": 1, "size": 480, "angle": 320}},
        {"data": {"name": "starA"}, "mark": {"type": "text", "fontSize": 24, "fontWeight": "bold", "dy": 6, "color": "#000000"}, "encoding": {"text": {"field": "label"}}}
      ]
    },
    {
      "width": 549, "height": 235,
      "title": {"text": "C", "dx": -68, "dy": 42},
      "encoding": {
        "x": {"field": "t", "type": "quantitative", "scale": {"domain": [0, 10], "nice": false}, "axis": {"values": [0,2,4,6,8,10], "labelOverlap": false, "labelFontSize": 16, "titleFontSize": 18, "title": "Time (days)"}},
        "y": {"field": "v", "type": "quantitative", "scale": {"domain": [0, 3.5], "nice": false}, "axis": {"values": [0,0.5,1,1.5,2,2.5,3,3.5], "format": "~g", "labelOverlap": false, "labelFontSize": 16, "titleFontSize": 18, "titleFontWeight": "bold", "titleY": 134, "title": "Rb (Ω.cm²)", "labelPadding": 15, "titlePadding": 7}}
      },
      "layer": [
        {"data": {"name": "C"}, "mark": {"type": "line", "strokeWidth": 1.8},
         "encoding": {"color": {"field": "s", "type": "nominal", "scale": {"domain": ["Young","Middle-aged","Elderly"], "range": ["#000000","#1f3cff","#e8291c"]}, "legend": {"legendX": 429, "legendY": -14}}}},
        {"data": {"name": "errC"}, "mark": {"type": "rule", "color": "#999999", "strokeWidth": 1.2}, "encoding": {"y2": {"field": "v2"}}},
        {"data": {"name": "errC"}, "transform": [{"fold": ["v", "v2"], "as": ["k", "v"]}], "mark": {"type": "tick", "orient": "horizontal", "color": "#999999", "size": 7, "thickness": 1.2}},
        {"data": {"name": "arrC"}, "mark": {"type": "rule", "color": "#000000", "strokeWidth": 7}, "encoding": {"x2": {"field": "t2"}, "y2": {"field": "v2"}}},
        {"data": {"name": "headC"}, "mark": {"type": "point", "shape": "triangle-up", "filled": true, "color": "#000000", "opacity": 1, "size": 480, "angle": 238.5}},
        {"data": {"name": "starC"}, "mark": {"type": "text", "fontSize": 24, "fontWeight": "bold", "dy": 6, "color": "#000000"}, "encoding": {"text": {"field": "label"}}}
      ]
    },
    {
      "width": 550, "height": 235,
      "title": {"text": "B", "dx": -63, "dy": 34},
      "encoding": {
        "x": {"field": "t", "type": "quantitative", "scale": {"domain": [0, 26], "nice": false}, "axis": {"values": [0,2,4,6,8,10,12,14,16,18,20,22,24,26], "labelOverlap": false, "labelFontSize": 16, "titleFontSize": 18, "title": "Time (days)"}},
        "y": {"field": "v", "type": "quantitative", "scale": {"domain": [0, 60], "nice": false}, "axis": {"values": [0,10,20,30,40,50,60], "labelOverlap": false, "labelFontSize": 16, "titleFontSize": 18, "titleFontWeight": "bold", "titleY": 134, "title": "α²  (Ω.cm²)"}}
      },
      "layer": [
        {"data": {"name": "B"}, "mark": {"type": "line", "strokeWidth": 1.8},
         "encoding": {"color": {"field": "s", "type": "nominal", "scale": {"domain": ["Young","Middle-aged","Elderly"], "range": ["#000000","#1f3cff","#e8291c"]}, "legend": {"legendX": 424, "legendY": -7}}}},
        {"data": {"name": "errB"}, "mark": {"type": "rule", "color": "#999999", "strokeWidth": 1.2}, "encoding": {"y2": {"field": "v2"}}},
        {"data": {"name": "errB"}, "transform": [{"fold": ["v", "v2"], "as": ["k", "v"]}], "mark": {"type": "tick", "orient": "horizontal", "color": "#999999", "size": 7, "thickness": 1.2}},
        {"data": {"name": "arrB"}, "mark": {"type": "rule", "color": "#000000", "strokeWidth": 7}, "encoding": {"x2": {"field": "t2"}, "y2": {"field": "v2"}}},
        {"data": {"name": "headB"}, "mark": {"type": "point", "shape": "triangle-up", "filled": true, "color": "#000000", "opacity": 1, "size": 480, "angle": 235.6}},
        {"data": {"name": "starB"}, "mark": {"type": "text", "fontSize": 24, "fontWeight": "bold", "dy": 6, "color": "#000000"}, "encoding": {"text": {"field": "label"}}}
      ]
    },
    {
      "width": 544, "height": 235,
      "title": {"text": "D", "dx": -68, "dy": 34},
      "encoding": {
        "x": {"field": "t", "type": "quantitative", "scale": {"domain": [0, 26], "nice": false}, "axis": {"values": [0,2,4,6,8,10,12,14,16,18,20,22,24,26], "labelOverlap": false, "labelFontSize": 16, "titleFontSize": 18, "title": "Time (days)"}},
        "y": {"field": "v", "type": "quantitative", "scale": {"domain": [0, 3.5], "nice": false}, "axis": {"values": [0,0.5,1,1.5,2,2.5,3,3.5], "format": "~g", "labelOverlap": false, "labelFontSize": 16, "titleFontSize": 18, "titleFontWeight": "bold", "titleY": 134, "title": "Rb (Ω.cm²)", "labelPadding": 15, "titlePadding": 7}}
      },
      "layer": [
        {"data": {"name": "D"}, "mark": {"type": "line", "strokeWidth": 1.8},
         "encoding": {"color": {"field": "s", "type": "nominal", "scale": {"domain": ["Young","Middle-aged","Elderly"], "range": ["#000000","#1f3cff","#e8291c"]}, "legend": {"legendX": 429, "legendY": -7}}}},
        {"data": {"name": "errD"}, "mark": {"type": "rule", "color": "#999999", "strokeWidth": 1.2}, "encoding": {"y2": {"field": "v2"}}},
        {"data": {"name": "errD"}, "transform": [{"fold": ["v", "v2"], "as": ["k", "v"]}], "mark": {"type": "tick", "orient": "horizontal", "color": "#999999", "size": 7, "thickness": 1.2}},
        {"data": {"name": "arrD"}, "mark": {"type": "rule", "color": "#000000", "strokeWidth": 7}, "encoding": {"x2": {"field": "t2"}, "y2": {"field": "v2"}}},
        {"data": {"name": "headD"}, "mark": {"type": "point", "shape": "triangle-up", "filled": true, "color": "#000000", "opacity": 1, "size": 480, "angle": 236.3}},
        {"data": {"name": "starD"}, "mark": {"type": "text", "fontSize": 24, "fontWeight": "bold", "dy": 6, "color": "#000000"}, "encoding": {"text": {"field": "label"}}}
      ]
    }
  ]
}
